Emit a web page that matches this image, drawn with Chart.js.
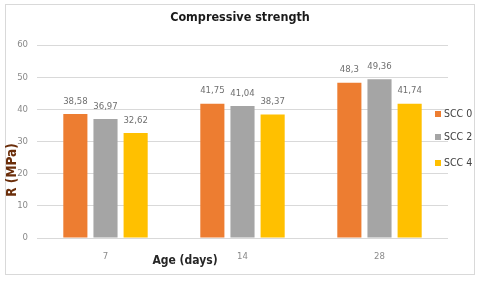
<!DOCTYPE html>
<html>
<head>
<meta charset="utf-8">
<script src="https://cdn.jsdelivr.net/npm/chart.js@4"></script>
<style>
html,body{margin:0;padding:0;background:#fff;}
#wrap{width:480px;height:281px;position:relative;}
</style>
</head>
<body>
<div id="wrap"><canvas id="c" width="480" height="281"></canvas></div>
<script>
const categories = ["7", "14", "28"];
const seriesNames = ["SCC 0", "SCC 2", "SCC 4"];
const scc0 = [38.58, 41.75, 48.3];
const scc2 = [36.97, 41.04, 49.36];
const scc4 = [32.62, 38.37, 41.74];
const valueLabels0 = ["38,58", "41,75", "48,3"];
const valueLabels2 = ["36,97", "41,04", "49,36"];
const valueLabels4 = ["32,62", "38,37", "41,74"];
const yTicks = [0, 10, 20, 30, 40, 50, 60];
const colors = ["#ED7D31", "#A5A5A5", "#FFC000"];
const FONT = '"Liberation Sans Narrow", "DejaVu Sans Condensed", "Liberation Sans", sans-serif';

const valueLabels = [valueLabels0, valueLabels2, valueLabels4];

const decor = {
  id: 'decor',
  beforeDraw(chart) {
    const ctx = chart.ctx;
    ctx.save();
    ctx.fillStyle = '#fff';
    ctx.fillRect(0, 0, chart.width, chart.height);
    ctx.strokeStyle = '#d9d9d9';
    ctx.lineWidth = 1;
    ctx.strokeRect(5.5, 4.5, 469, 270);
    ctx.restore();
  },
  afterDatasetsDraw(chart) {
    const ctx = chart.ctx;
    ctx.save();
    // value labels
    ctx.font = '9.5px ' + FONT;
    ctx.fillStyle = '#6f6f6f';
    ctx.textAlign = 'center';
    ctx.textBaseline = 'bottom';
    chart.data.datasets.forEach((ds, i) => {
      const meta = chart.getDatasetMeta(i);
      meta.data.forEach((bar, j) => {
        ctx.fillText(valueLabels[i][j], bar.x, bar.y - 8);
      });
    });
    // title
    ctx.font = 'bold 12.5px ' + FONT;
    ctx.fillStyle = '#1a1a1a';
    ctx.textBaseline = 'middle';
    ctx.fillText('Compressive strength', 240, 18);
    // x axis title
    ctx.font = 'bold 12px ' + FONT;
    ctx.fillStyle = '#262626';
    ctx.fillText('Age (days)', 185, 261);
    // y axis title
    ctx.save();
    ctx.translate(12, 170);
    ctx.rotate(-Math.PI / 2);
    ctx.font = 'bold 13.5px ' + FONT;
    ctx.fillStyle = '#6b2e0a';
    ctx.fillText('R (MPa)', 0, 0);
    ctx.restore();
    // legend
    const ly = [114, 137, 163];
    ctx.font = '10.5px ' + FONT;
    ctx.textAlign = 'left';
    chart.data.datasets.forEach((ds, i) => {
      ctx.fillStyle = colors[i];
      ctx.fillRect(435, ly[i] - 3, 6, 6);
      ctx.fillStyle = '#404040';
      ctx.fillText(ds.label, 444, ly[i]);
    });
    ctx.restore();
  }
};

new Chart(document.getElementById('c'), {
  type: 'bar',
  data: {
    labels: categories,
    datasets: [
      { label: seriesNames[0], data: scc0, backgroundColor: colors[0] },
      { label: seriesNames[1], data: scc2, backgroundColor: colors[1] },
      { label: seriesNames[2], data: scc4, backgroundColor: colors[2] }
    ]
  },
  options: {
    responsive: false,
    animation: false,
    devicePixelRatio: 1,
    layout: { padding: { left: 0, right: 32, top: 45, bottom: 0 } },
    datasets: { bar: { categoryPercentage: 0.66, barPercentage: 0.8 } },
    plugins: {
      legend: { display: false },
      title: { display: false },
      tooltip: { enabled: false }
    },
    scales: {
      x: {
        grid: { display: false },
        border: { display: false },
        ticks: { color: '#8a8a8a', font: { size: 9.5, family: FONT }, padding: 5 },
        afterFit(s) { s.height = 43; }
      },
      y: {
        min: 0, max: 60,
        afterBuildTicks(s) { s.ticks = yTicks.map(v => ({ value: v })); },
        grid: { color: '#d9d9d9', lineWidth: 1, drawTicks: false },
        border: { display: false },
        ticks: { color: '#8a8a8a', font: { size: 9.5, family: FONT }, padding: 9 },
        afterFit(s) { s.width = 37; }
      }
    }
  },
  plugins: [decor]
});
</script>
</body>
</html>
